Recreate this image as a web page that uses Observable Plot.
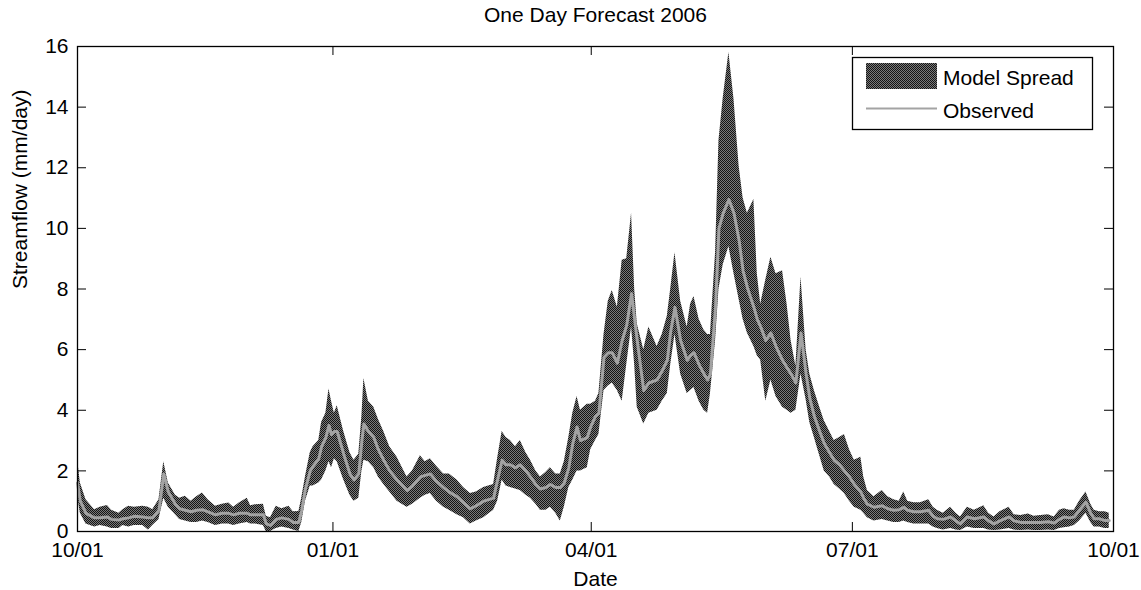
<!DOCTYPE html>
<html>
<head>
<meta charset="utf-8">
<script src="https://cdn.jsdelivr.net/npm/d3@7"></script>
<script src="https://cdn.jsdelivr.net/npm/@observablehq/plot@0.6"></script>
<style>
  html, body { margin: 0; padding: 0; background: #fff; }
  #chart { width: 1141px; height: 590px; }
</style>
</head>
<body>
<div id="chart"></div>
<script>
// ---- data (day of water year, from 10/01) ----
const days = [0,1,3,6,8,10.5,12,14.6,16,18,20,23,25,26.5,28.7,30.4,32,34.5,36,38,40,42,44,46,48.6,51,53.3,55,57,59.8,61,62.7,65.5,66.5,68,70,72,74.5,76,78,79,80.3,82,83,85,86,87.5,88.6,89.5,90.5,91.5,93.8,96,97.4,99.1,100.2,100.9,102.5,104.4,106,107.9,110,112.6,116.1,118,120.8,122.5,124.3,126.5,129,131,133.7,136,138.4,140.5,143.1,146.6,148,149.6,151,152.5,154.3,156,158,159.6,161.5,163.1,165,166.6,168.5,170.1,171.5,173.1,174.5,176,177.2,179.6,180.8,182.5,183.7,185.5,187,188.4,190.2,191.9,193.5,195.2,196.3,197.2,199.5,201.3,204.2,206,207.8,209,210.5,212.5,214.8,216,217.2,219,220.7,222,223,224.8,226,227.5,229.5,231.3,233.1,234.5,236,238.3,239.5,240.7,242.5,244.3,246.1,248.4,250,251.4,253.1,254.9,256.7,258,259.6,261.5,263.1,265,266.6,268.5,270.2,272,273.7,276,277,278.3,280.6,283.5,285.5,287.6,289.5,291.1,292.5,294.6,297,299.9,301.5,302.9,305,307.6,309.5,311.1,313.5,316,319.3,321,322.9,325,328.2,330,332.3,335,337,339.4,342,344.1,346,347.6,349.5,351.2,353,355.3,357,358.2,360,362,363.5];
const spreadLow = [1.2,0.6,0.25,0.15,0.2,0.15,0.1,0.1,0.2,0.15,0.2,0.2,0.05,0.2,0.4,1.1,0.8,0.55,0.4,0.35,0.3,0.3,0.35,0.3,0.2,0.25,0.25,0.2,0.25,0.3,0.25,0.25,0.2,0.0,0.0,0.1,0.15,0.1,0.05,0.0,0.3,1.0,1.5,1.5,1.6,1.7,2.0,2.3,2.1,2.4,2.3,1.7,1.2,1.0,1.1,2.0,2.35,2.3,2.1,1.8,1.55,1.3,1.0,0.8,0.9,1.1,1.2,1.25,1.0,0.8,0.7,0.55,0.45,0.25,0.35,0.45,0.7,1.0,1.7,1.5,1.45,1.4,1.35,1.2,1.1,0.9,0.7,0.7,0.8,0.6,0.35,0.8,1.45,1.7,2.0,2.0,2.1,2.7,3.0,3.2,4.65,4.8,4.9,4.65,4.3,5.5,6.75,5.5,4.1,3.55,3.9,4.0,4.3,4.55,5.5,6.5,5.2,4.55,4.65,4.75,4.3,4.0,3.9,4.55,6.3,8.0,8.8,9.4,8.5,7.65,7.0,6.55,6.1,5.8,5.65,4.3,5.0,4.45,4.1,4.0,3.9,4.0,5.2,4.35,3.6,3.1,2.5,2.0,1.8,1.55,1.4,1.25,1.0,0.8,0.7,0.6,0.45,0.35,0.4,0.35,0.3,0.3,0.35,0.3,0.25,0.25,0.25,0.15,0.1,0.05,0.1,0.05,0.03,0.15,0.1,0.1,0.05,0.03,0.05,0.1,0.05,0.03,0.05,0.03,0.03,0.05,0.03,0.1,0.12,0.15,0.2,0.35,0.6,0.3,0.15,0.15,0.1,0.1];
const observed = [1.6,1.0,0.6,0.45,0.45,0.48,0.4,0.38,0.42,0.45,0.5,0.48,0.45,0.45,0.7,1.9,1.3,0.9,0.75,0.7,0.65,0.7,0.72,0.65,0.55,0.6,0.6,0.55,0.6,0.6,0.55,0.55,0.55,0.25,0.2,0.4,0.45,0.4,0.3,0.3,0.7,1.4,2.0,2.15,2.4,2.8,3.1,3.5,3.2,3.3,3.3,2.55,1.9,1.7,1.9,3.0,3.55,3.3,3.1,2.7,2.35,2.0,1.7,1.35,1.5,1.8,1.85,1.9,1.65,1.45,1.3,1.15,0.95,0.75,0.85,1.0,1.1,1.7,2.35,2.2,2.2,2.1,2.2,2.0,1.8,1.55,1.4,1.45,1.55,1.45,1.45,1.6,2.1,2.9,3.45,3.0,3.1,3.45,3.8,3.9,5.75,5.9,5.9,5.55,6.3,6.8,7.85,7.0,6.3,4.65,4.9,5.0,5.3,5.65,6.6,7.4,6.3,5.65,5.8,5.9,5.5,5.2,5.0,5.2,7.4,10.0,10.5,10.95,10.5,9.6,8.6,8.05,7.4,7.0,6.75,6.3,6.55,6.1,5.65,5.4,5.2,4.9,6.55,5.2,4.4,3.8,3.3,2.9,2.6,2.35,2.2,2.0,1.8,1.55,1.3,1.1,0.9,0.8,0.85,0.75,0.7,0.72,0.8,0.7,0.65,0.65,0.7,0.5,0.42,0.4,0.48,0.35,0.25,0.48,0.42,0.48,0.35,0.25,0.35,0.48,0.35,0.3,0.3,0.3,0.3,0.32,0.28,0.4,0.48,0.45,0.48,0.7,0.97,0.6,0.42,0.42,0.36,0.36];
const spreadHigh = [2.4,1.6,1.05,0.72,0.8,0.86,0.7,0.6,0.72,0.83,0.8,0.83,0.8,0.72,1.05,2.3,1.6,1.2,1.1,1.16,1.0,1.15,1.27,1.05,0.83,0.9,0.94,0.8,0.94,1.1,0.85,0.88,0.9,0.5,0.45,0.83,0.75,0.83,0.65,0.66,1.1,1.8,2.6,2.8,3.0,3.6,3.9,4.7,4.3,3.9,4.15,3.3,2.6,2.35,2.55,3.8,5.05,4.3,4.1,3.7,3.3,2.8,2.45,1.8,2.0,2.5,2.3,2.4,2.15,1.9,1.9,1.7,1.45,1.25,1.3,1.45,1.55,2.4,3.3,3.1,3.0,2.8,3.0,2.6,2.35,2.0,1.8,1.95,2.1,1.9,1.9,2.3,3.1,3.9,4.45,4.0,4.2,4.2,4.3,4.55,6.5,7.6,7.95,7.4,8.95,9.0,10.5,8.0,6.85,6.0,6.75,6.1,6.5,7.1,8.0,9.2,7.6,6.75,7.5,7.75,7.0,6.65,6.5,6.5,9.2,12.9,14.3,15.8,14.25,12.05,11.0,10.5,10.95,8.5,7.5,8.3,9.05,8.5,8.6,7.5,6.3,5.45,8.4,6.0,5.2,4.65,4.1,3.65,3.3,3.0,3.1,3.2,2.7,2.35,2.45,1.8,1.35,1.15,1.35,1.15,1.05,1.0,1.3,1.0,0.95,0.95,1.05,0.8,0.7,0.6,0.8,0.6,0.48,0.8,0.7,0.85,0.6,0.48,0.65,0.8,0.55,0.53,0.58,0.5,0.53,0.55,0.48,0.7,0.75,0.7,0.7,1.0,1.3,0.9,0.7,0.65,0.65,0.6];

const xTickValues = [0, 90, 181, 273, 365];
const xTickLabels = ["10/01", "01/01", "04/01", "07/01", "10/01"];
const yTickValues = [0, 2, 4, 6, 8, 10, 12, 14, 16];

const titleText = "One Day Forecast 2006";
const xLabelText = "Date";
const yLabelText = "Streamflow (mm/day)";
const legendLabels = ["Model Spread", "Observed"];

// ---- layout ----
const W = 1141, H = 590;
const mL = 77, mR = 28, mT = 46, mB = 59;
const plotW = W - mL - mR, plotH = H - mT - mB;
const TICK = 9;
const FONT = "'Liberation Sans', Arial, Helvetica, sans-serif";
const FS = 21;

const table = days.map((d, i) => ({day: d, lo: spreadLow[i], obs: observed[i], hi: spreadHigh[i]}));

const chart = Plot.plot({
  width: W, height: H,
  marginLeft: mL, marginRight: mR, marginTop: mT, marginBottom: mB,
  style: {fontFamily: FONT, fontSize: FS + "px", background: "#fff", color: "#000"},
  x: {type: "linear", domain: [0, 365]},
  y: {domain: [0, 16]},
  marks: [
    Plot.areaY(table, {x: "day", y1: "lo", y2: "hi", fill: "url(#dither)", curve: "linear"}),
    Plot.line(table, {x: "day", y: "obs", stroke: "#a3a3a3", strokeWidth: 3, curve: "linear"}),
    Plot.frame({stroke: "#000", strokeWidth: 1.3}),
    // inward ticks, all four sides (MATLAB style)
    Plot.tickX(xTickValues, {x: d => d, insetTop: plotH - TICK, stroke: "#000"}),
    Plot.tickX(xTickValues, {x: d => d, insetBottom: plotH - TICK, stroke: "#000"}),
    Plot.tickY(yTickValues, {y: d => d, insetRight: plotW - TICK, stroke: "#000"}),
    Plot.tickY(yTickValues, {y: d => d, insetLeft: plotW - TICK, stroke: "#000"}),
    Plot.axisX(xTickValues, {tickSize: 0, tickPadding: 11, tickFormat: (d, i) => xTickLabels[i], label: null, fontSize: FS, fill: "#000"}),
    Plot.axisY(yTickValues, {tickSize: 0, tickPadding: 9, label: null, fontSize: FS, fill: "#000"}),
    Plot.text([titleText], {frameAnchor: "top", dy: -39, text: d => d, fontSize: FS, fill: "#000"}),
    Plot.text([xLabelText], {frameAnchor: "bottom", dy: 54, text: d => d, fontSize: FS, fill: "#000"}),
    Plot.text([yLabelText], {frameAnchor: "left", dx: -57, rotate: -90, text: d => d, fontSize: FS, fill: "#000"})
  ]
});

// dither pattern emulating the stippled fill
const svg = d3.select(chart);
const defs = svg.insert("defs", ":first-child");
const pat = defs.append("pattern").attr("id", "dither").attr("patternUnits", "userSpaceOnUse")
  .attr("width", 2).attr("height", 2);
pat.append("rect").attr("width", 2).attr("height", 2).attr("fill", "#7a7a7a").attr("shape-rendering", "crispEdges");
pat.append("rect").attr("width", 1).attr("height", 1).attr("fill", "#141414").attr("shape-rendering", "crispEdges");
pat.append("rect").attr("x", 1).attr("y", 1).attr("width", 1).attr("height", 1).attr("fill", "#141414").attr("shape-rendering", "crispEdges");

// legend box
const lg = svg.append("g").attr("class", "legend").attr("font-family", FONT).attr("font-size", FS)
  .attr("text-anchor", "start");
lg.append("rect").attr("x", 852.5).attr("y", 57.5).attr("width", 240).attr("height", 72)
  .attr("fill", "#fff").attr("stroke", "#000").attr("stroke-width", 1.3);
lg.append("rect").attr("x", 866).attr("y", 63).attr("width", 71).attr("height", 26).attr("fill", "url(#dither)");
lg.append("line").attr("x1", 866).attr("x2", 937).attr("y1", 108.5).attr("y2", 108.5)
  .attr("stroke", "#a3a3a3").attr("stroke-width", 2);
lg.append("text").attr("x", 943).attr("y", 78).attr("dy", "0.35em").attr("text-anchor", "start").attr("fill", "#000").text(legendLabels[0]);
lg.append("text").attr("x", 943).attr("y", 111).attr("dy", "0.35em").attr("text-anchor", "start").attr("fill", "#000").text(legendLabels[1]);

document.getElementById("chart").appendChild(chart);
</script>
</body>
</html>
